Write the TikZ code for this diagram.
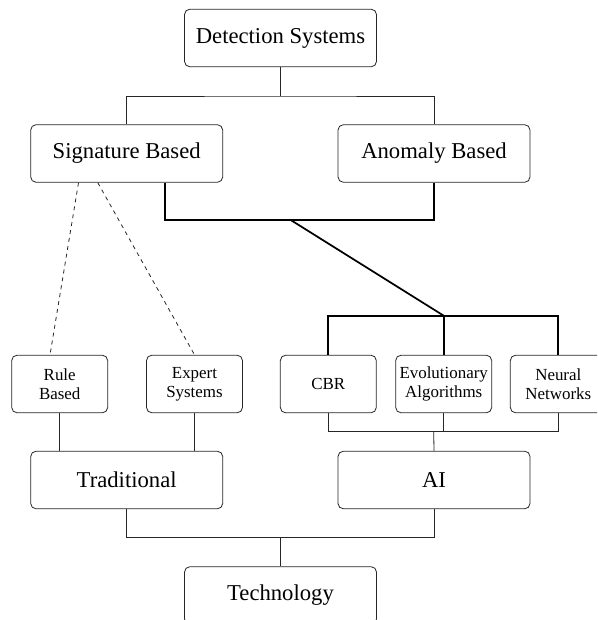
\documentclass[tikz,border=0pt]{standalone}
\usepackage{fontspec}
\setmainfont{Liberation Serif}
\usetikzlibrary{calc}
\tikzset{
	mainbox/.style={rectangle, rounded corners=4pt, draw=black!85, line width=0.6pt, minimum width=144pt, minimum height=43.2pt, align=center, font=\fontsize{17}{20}\selectfont, inner sep=1pt},
	subbox/.style ={rectangle, rounded corners=4pt, draw=black!85, line width=0.6pt, minimum width=72pt, minimum height=43.2pt, align=center, font=\fontsize{12.7}{14}\selectfont, inner sep=1pt},
	wire/.style   ={line width=0.6pt, black!85},
	busline/.style={line width=1.3pt, black},
	hint/.style   ={line width=0.6pt, black!85, dash pattern=on 3pt off 3pt},
}
\begin{document}
\begin{tikzpicture}[x=0.75pt, y=-0.75pt]
	\useasboundingbox (0,0) rectangle (597,620);
	\clip (0,0) rectangle (597,620);
	% main levels
	\node[mainbox] (det)  at (280.5,38)    {Detection Systems};
	\node[mainbox] (sig)  at (126.7,153.5) {Signature Based};
	\node[mainbox] (anom) at (434,153.5)   {Anomaly Based};
	\node[mainbox] (trad) at (126.7,480)   {Traditional};
	\node[mainbox] (ai)   at (434,480)     {AI};
	\node[mainbox] (tech) at (280.5,595.5) {Technology};
	% methods
	\foreach \n/\x/\l in {
		rule/59.7/{Rule\\Based},
		exp/194.5/{Expert\\Systems},
		cbr/328.3/{CBR},
		evo/443.7/{Evolutionary\\Algorithms},
		neur/558.3/{Neural\\Networks}} {
		\node[subbox] (\n) at (\x,384) {\l};
	}
	% junctions
	\coordinate (jTop) at (280.5,96);
	\coordinate (jSig) at (290.7,220);
	\coordinate (jAI)  at (443.7,315.7);
	\coordinate (jLow) at (433.7,431.7);
	\coordinate (jBot) at (280.5,537.3);
	% top tree
	\draw[wire] (det.south) -- (jTop);
	\draw[wire] (sig.north) |- (jTop) -| (anom.north);
	% bold link to AI methods
	\draw[busline] ($(sig.south)!0.4!(sig.south east)$) |- (jSig) -| (anom.south);
	\draw[busline] (jSig) -- (jAI);
	\draw[busline] (cbr.north) |- (jAI) -| (neur.north);
	\draw[busline] (evo.north) -- (jAI);
	% dashed links
	\draw[hint] ($(sig.south)!0.5!(sig.south west)$) -- ($(rule.north)!0.2!(rule.north west)$);
	\draw[hint] ($(sig.south)!0.3!(sig.south west)$) -- (exp.north);
	% lower tree
	\draw[wire] (rule.south) -- (rule.south |- trad.north);
	\draw[wire] (exp.south) -- (exp.south |- trad.north);
	\draw[wire] (cbr.south) |- (jLow) -| (neur.south);
	\draw[wire] (evo.south) -- (evo.south |- jLow);
	\draw[wire] (jLow) -- (ai.north);
	\draw[wire] (trad.south) |- (jBot) -| (ai.south);
	\draw[wire] (jBot) -- (tech.north);
\end{tikzpicture}
\end{document}
